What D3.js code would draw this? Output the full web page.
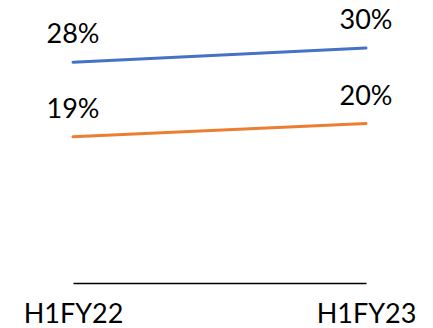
<!DOCTYPE html>
<html>
<head>
<meta charset="utf-8">
<script src="https://cdn.jsdelivr.net/npm/d3@7"></script>
<style>
  html, body { margin: 0; padding: 0; background: #fff; }
  svg { display: block; }
  text { font-family: Lato, "Open Sans", sans-serif; fill: #000; }
</style>
</head>
<body>
<svg id="chart" width="433" height="328"></svg>
<script>
// Half-year periods on the category axis
const periods = ["H1FY22", "H1FY23"];
// Two share series (fractions)
const seriesA = [0.281, 0.299];
const seriesB = [0.186, 0.203];
const seriesColors = ["#4472C4", "#ED7D31"];

const svg = d3.select("#chart");
const margin = { left: 73, right: 67, top: 8, bottom: 45 };
const W = 433, H = 328;

const x = d3.scalePoint().domain(periods).range([margin.left, W - margin.right]);
const y = d3.scaleLinear().domain([0, 0.35]).range([H - margin.bottom, margin.top]);

// Category axis: baseline plus labels
const xAxis = d3.axisBottom(x).tickSize(0).tickPadding(21);
const gx = svg.append("g")
  .attr("transform", `translate(0,${y(0)})`)
  .call(xAxis);
gx.select(".domain").attr("stroke", "#000").attr("stroke-width", 1.5);
gx.selectAll("text")
  .attr("font-size", 27)
  .style("font-family", "Lato, 'Open Sans', sans-serif")
  .attr("fill", "#000");

const line = d3.line()
  .x((d, i) => x(periods[i]))
  .y(d => y(d));

const fmt = d3.format(".0%");

[seriesA, seriesB].forEach((vals, s) => {
  svg.append("path")
    .datum(vals)
    .attr("d", line)
    .attr("fill", "none")
    .attr("stroke", seriesColors[s])
    .attr("stroke-width", 3)
    .attr("stroke-linecap", "round");

  svg.append("g").selectAll("text")
    .data(vals)
    .join("text")
    .attr("x", (d, i) => x(periods[i]))
    .attr("y", d => y(d) - 19)
    .attr("text-anchor", "middle")
    .attr("font-size", 27)
    .text(d => fmt(d));
});
</script>
</body>
</html>
